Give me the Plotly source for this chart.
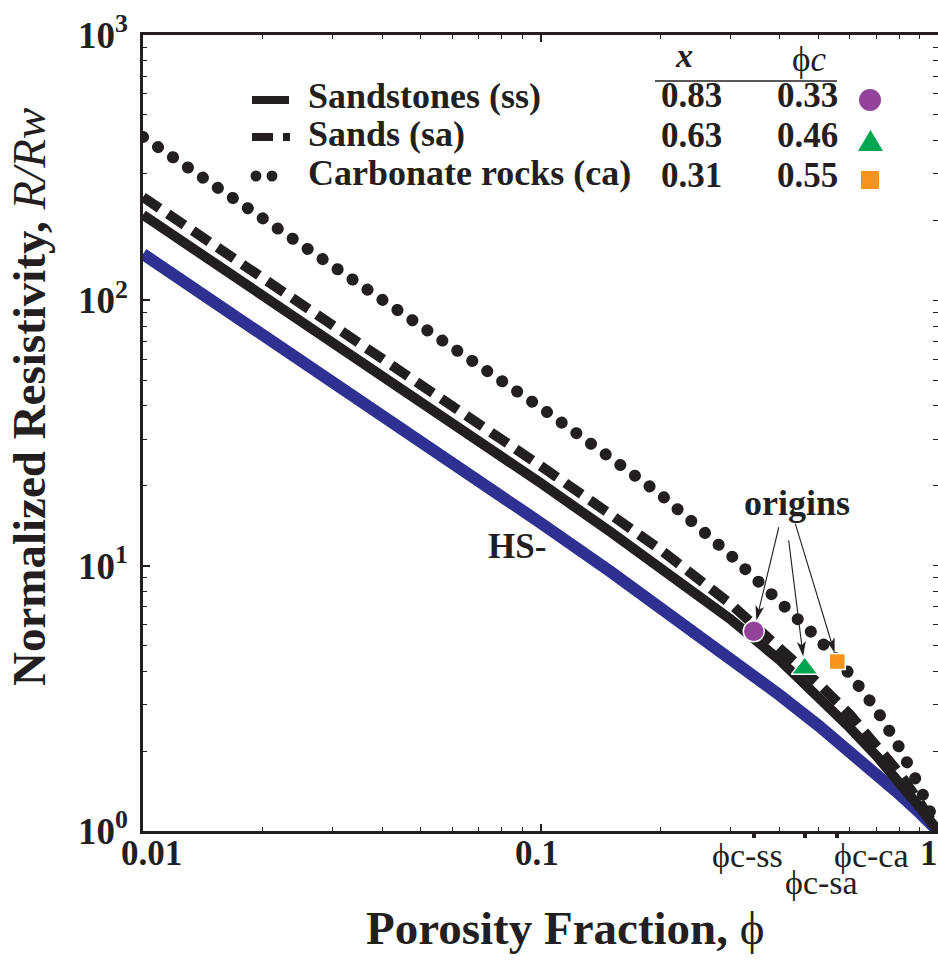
import math
import plotly.graph_objects as go

# ---------------- data ----------------
phi = [0.01, 0.02, 0.03, 0.05, 0.07, 0.1, 0.15, 0.2, 0.3, 0.4, 0.5, 0.6, 0.7, 0.8, 0.9, 1.0]
r_hs = [149.5, 74.5, 49.5, 29.5, 20.9, 14.5, 9.5, 7.0, 4.5, 3.25, 2.5, 2.0, 1.64, 1.375, 1.17, 1.0]
r_ss = [210, 105, 70, 41.5, 29.5, 20.5, 13.4, 9.9, 6.3, 4.4, 3.2, 2.45, 1.92, 1.53, 1.23, 1.0]
r_sa = [245, 122, 81, 48.5, 34.3, 23.8, 15.6, 11.5, 7.2, 4.9, 3.6, 2.75, 2.1, 1.65, 1.28, 1.0]
r_ca = [413, 205, 136, 80, 57, 39.5, 25.5, 18.6, 11.0, 7.4, 5.3, 3.9, 2.87, 2.06, 1.46, 1.0]

rock_names = ["Sandstones (ss)", "Sands (sa)", "Carbonate rocks (ca)"]
x_exp = ["0.83", "0.63", "0.31"]
phi_c = ["0.33", "0.46", "0.55"]
phic_pos = [0.344, 0.462, 0.558]      # where the origins / critical ticks sit on the axis
origin_r = [5.66, 4.1, 4.35]
phic_labels = ["ϕc-ss", "ϕc-sa", "ϕc-ca"]
marker_colors = ["#93439A", "#00A651", "#F7941E"]
marker_symbols = ["circle", "triangle-up", "square"]

x_major = [0.01, 0.1, 1]
x_major_text = ["0.01", "0.1", "1"]
x_minor = [0.02, 0.03, 0.04, 0.05, 0.06, 0.07, 0.08, 0.09, 0.2, 0.3, 0.4, 0.5, 0.6, 0.7, 0.8, 0.9]
y_major = [1, 10, 100, 1000]
y_major_text = ["<b>10<sup>0</sup></b>", "<b>10<sup>1</sup></b>", "<b>10<sup>2</sup></b>", "<b>10<sup>3</sup></b>"]
y_minor = [2, 3, 4, 5, 6, 7, 8, 9, 20, 30, 40, 50, 60, 70, 80, 90, 200, 300, 400, 500, 600, 700, 800, 900]

INK = "#231F20"
BLUE = "#2E3192"
FONT = "Liberation Serif"

W, H = 938, 960
L, R, T, B = 143, 0, 35, 129
PW, PH = W - L - R, H - T - B
X_RANGE = [-2, 0]
Y_RANGE = [0, 3]


def px(x):
    return (x - L) / PW


def py(y):
    return (H - B - y) / PH


def data_to_px(xv, yv):
    lx = (math.log10(xv) - X_RANGE[0]) / (X_RANGE[1] - X_RANGE[0])
    ly = (math.log10(yv) - Y_RANGE[0]) / (Y_RANGE[1] - Y_RANGE[0])
    return L + lx * PW, T + (1 - ly) * PH


fig = go.Figure()

fig.add_trace(go.Scatter(x=phi, y=r_hs, mode="lines", line=dict(color=BLUE, width=12), showlegend=False))
fig.add_trace(go.Scatter(x=phi, y=r_ss, mode="lines", line=dict(color=INK, width=10), showlegend=False))
fig.add_trace(go.Scatter(x=phi, y=r_sa, mode="lines", line=dict(color=INK, width=10, dash="20px,10px"), showlegend=False))
fig.add_trace(go.Scatter(x=phi, y=r_ca, mode="lines", line=dict(color=INK, width=12, dash="0.1px,18px"), showlegend=False))
# origin markers on the overlay axes (same ranges) so they sit above the curves
fig.add_trace(go.Scatter(x=phic_pos, y=origin_r, mode="markers", xaxis="x3", yaxis="y2",
                         marker=dict(symbol=marker_symbols, color=marker_colors, size=[21, 23, 16],
                                     line=dict(color="white", width=1.5), opacity=1),
                         showlegend=False))

axis_common = dict(type="log", showgrid=False, zeroline=False)
fig.update_layout(
    width=W, height=H, margin=dict(l=L, r=R, t=T, b=B),
    paper_bgcolor="white", plot_bgcolor="white",
    font=dict(family=FONT, color=INK),
    xaxis=dict(**axis_common, range=X_RANGE, showline=True, linewidth=2.5, linecolor=INK,
               mirror="ticks", ticks="inside", tickvals=x_major, ticklen=7, tickwidth=1.5, tickcolor=INK,
               showticklabels=False,
               minor=dict(tickvals=x_minor, ticks="inside", ticklen=4, tickwidth=1.2, tickcolor=INK, showgrid=False)),
    yaxis=dict(**axis_common, range=Y_RANGE, showline=True, linewidth=2.5, linecolor=INK,
               mirror=False, ticks="inside", tickvals=y_major, ticktext=y_major_text, ticklen=7,
               tickwidth=1.5, tickcolor=INK, tickfont=dict(family=FONT, size=37, color=INK),
               ticklabelstandoff=5,
               minor=dict(tickvals=y_minor, ticks="inside", ticklen=4, tickwidth=1.2, tickcolor=INK, showgrid=False)),
    yaxis2=dict(**axis_common, range=Y_RANGE, overlaying="y", side="right", anchor="x3", showline=False,
                ticks="inside", tickvals=y_major + y_minor, ticklen=5, tickwidth=1.2, tickcolor=INK,
                showticklabels=False),
    xaxis3=dict(**axis_common, range=X_RANGE, overlaying="x", side="bottom", anchor="y2", showline=False,
                ticks="outside", tickvals=phic_pos, ticklen=6, tickwidth=4, tickcolor=INK,
                showticklabels=False),
)

ann = []


def text(x, y, s, size, xanchor="center", yanchor="middle", angle=0):
    ann.append(dict(x=px(x), y=py(y), xref="paper", yref="paper", text=s, showarrow=False,
                    xanchor=xanchor, yanchor=yanchor, textangle=angle,
                    font=dict(family=FONT, size=size, color=INK)))


# axis titles
text(29, 397, "<b>Normalized Resistivity,</b> <i>R/Rw</i>", 47, angle=-90)
text(565, 928, "<b>Porosity Fraction,</b> ϕ", 47)

# x tick labels
for v, s, xc in zip(x_major, x_major_text, [151, 537, 929]):
    text(xc, 853, "<b>" + s + "</b>", 35)

# critical porosity labels
for s, (xc, yc) in zip(phic_labels, [(747, 856), (821, 882), (871, 856)]):
    text(xc, yc, s, 34)

# legend / table text
for name, yc in zip(rock_names, [96, 134, 173]):
    text(306, yc, "<b>" + name + "</b>", 36, xanchor="left")
for xe, pc, yc in zip(x_exp, phi_c, [95, 135, 175]):
    text(691, yc, "<b>" + xe + "</b>", 35)
    text(807, yc, "<b>" + pc + "</b>", 35)
text(684, 56, "<b><i>x</i></b>", 34)
text(809, 59, "ϕ<i>c</i>", 35)

# in-plot labels
text(517, 546, "<b>HS-</b>", 35)
text(797, 503, "<b>origins</b>", 36)

fig.update_layout(annotations=ann)

shapes = []
# arrows from "origins" to each origin marker
for xv, rv, (ax, ay), so in zip(phic_pos, origin_r, [(25, -104), (-16, -128), (-42, -138)], [11, 12, 9]):
    cx, cy = data_to_px(xv, rv)
    tx, ty = cx + ax, cy + ay
    dx, dy = cx - tx, cy - ty
    dl = math.hypot(dx, dy)
    ux, uy = dx / dl, dy / dl
    hx, hy = cx - ux * so, cy - uy * so          # arrow tip
    hl, hw = 15, 4.5
    bx, by = hx - ux * hl, hy - uy * hl          # back of head
    nx, ny = -uy, ux
    nbx, nby = hx - ux * hl * 0.75, hy - uy * hl * 0.75
    shapes.append(dict(type="line", xref="paper", yref="paper", x0=px(tx), y0=py(ty), x1=px(nbx), y1=py(nby),
                       line=dict(color=INK, width=1.1)))
    shapes.append(dict(type="path", xref="paper", yref="paper",
                       path="M %f,%f L %f,%f L %f,%f L %f,%f Z" % (
                           px(hx), py(hy), px(bx + nx * hw), py(by + ny * hw),
                           px(nbx), py(nby), px(bx - nx * hw), py(by - ny * hw)),
                       fillcolor=INK, line=dict(width=0)))
# legend samples
shapes.append(dict(type="line", xref="paper", yref="paper", x0=px(252), x1=px(289), y0=py(100), y1=py(100),
                   line=dict(color=INK, width=8)))
for x0, x1 in [(252, 273), (283, 290)]:
    shapes.append(dict(type="rect", xref="paper", yref="paper", x0=px(x0), x1=px(x1), y0=py(141), y1=py(133),
                       fillcolor=INK, line=dict(width=0)))
for xc in [256, 272]:
    shapes.append(dict(type="circle", xref="paper", yref="paper", x0=px(xc - 5.5), x1=px(xc + 5.5),
                       y0=py(176 + 5.5), y1=py(176 - 5.5), fillcolor=INK, line=dict(width=0)))
# table rule
shapes.append(dict(type="line", xref="paper", yref="paper", x0=px(655), x1=px(837), y0=py(81), y1=py(81),
                   line=dict(color=INK, width=1.5)))
# table markers
shapes.append(dict(type="circle", xref="paper", yref="paper", x0=px(859), x1=px(881), y0=py(111), y1=py(89),
                   fillcolor=marker_colors[0], line=dict(width=0)))
shapes.append(dict(type="path", xref="paper", yref="paper",
                   path="M %f,%f L %f,%f L %f,%f Z" % (px(858), py(151), px(883), py(151), px(870.5), py(130)),
                   fillcolor=marker_colors[1], line=dict(width=0)))
shapes.append(dict(type="rect", xref="paper", yref="paper", x0=px(861), x1=px(879), y0=py(189), y1=py(171),
                   fillcolor=marker_colors[2], line=dict(width=0)))
fig.update_layout(shapes=shapes)

post = """
var gd = document.getElementById('{plot_id}');
function rc(){
  gd.querySelectorAll('path.js-line').forEach(function(p){
    var d = p.style.strokeDasharray || p.getAttribute('stroke-dasharray') || '';
    if (d.indexOf('0.1') === 0) { p.style.strokeLinecap = 'round'; }
  });
}
rc();
if (gd.on) { gd.on('plotly_afterplot', rc); }
"""

fig.write_html("out.html", config={"displayModeBar": False}, post_script=post)
